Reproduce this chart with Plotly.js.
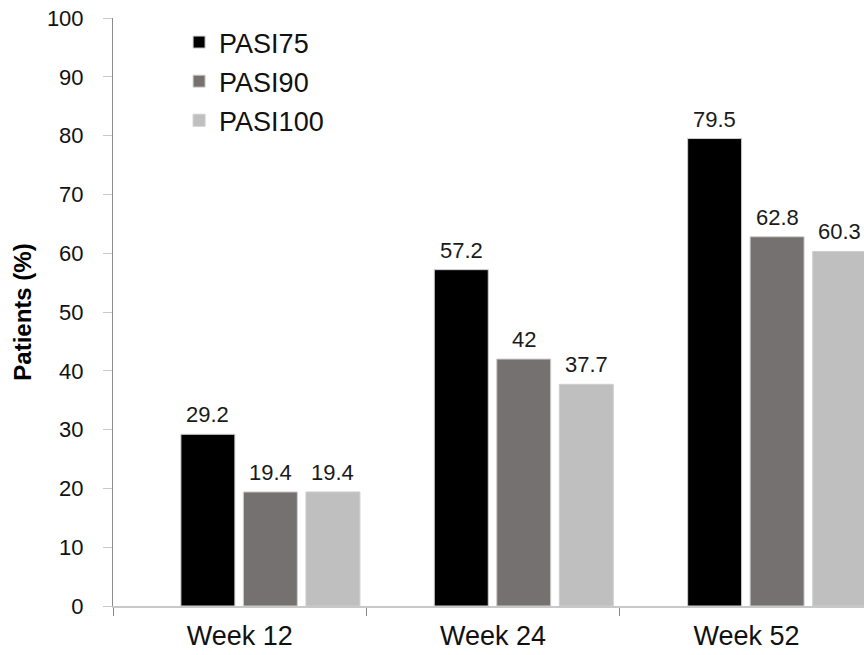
<!DOCTYPE html>
<html>
<head>
<meta charset="utf-8">
<script src="https://cdn.plot.ly/plotly-3.0.1.min.js"></script>
<style>
  html, body { margin: 0; padding: 0; background: #ffffff; overflow: hidden; }
  #chart { width: 864px; height: 655px; }
</style>
</head>
<body>
<div id="chart"></div>
<script>
// Response rates by visit
const weeks = ['Week 12', 'Week 24', 'Week 52'];
const pasi75 = [29.2, 57.2, 79.5];
const pasi90 = [19.4, 42, 62.8];
const pasi100 = [19.4, 37.7, 60.3];

const seriesNames = ['PASI75', 'PASI90', 'PASI100'];
const seriesColors = ['#000000', '#767171', '#bfbfbf'];
// bars sit right of each category centre, one slot per series
const barOffsets = [-0.232, 0.0145, 0.2615];
const barWidth = 0.213;

const FONT = '"Liberation Sans", Arial, sans-serif';
const allSeries = [pasi75, pasi90, pasi100];

const traces = allSeries.map((vals, i) => ({
  type: 'bar',
  name: seriesNames[i],
  legendgroup: seriesNames[i],
  x: weeks,
  y: vals,
  offset: barOffsets[i],
  width: barWidth,
  marker: { color: seriesColors[i], line: { color: '#cfcfcf', width: 1 } },
  hoverinfo: 'x+y+name'
}));

// value labels above each bar, placed at the bar's centre
const valueLabels = [];
allSeries.forEach((vals, i) => {
  vals.forEach((v, j) => {
    valueLabels.push({
      x: j + barOffsets[i] + barWidth / 2,
      y: v,
      xref: 'x', yref: 'y',
      text: String(v),
      showarrow: false,
      xanchor: 'center', yanchor: 'bottom',
      yshift: 5,
      font: { family: FONT, size: 22, color: '#1a1a1a' }
    });
  });
});

const layout = {
  width: 864,
  height: 655,
  margin: { l: 113, r: 0, t: 18, b: 49, pad: 0 },
  paper_bgcolor: '#ffffff',
  plot_bgcolor: '#ffffff',
  barmode: 'overlay',
  showlegend: true,
  legend: {
    x: 0.088, y: 1.0, xanchor: 'left', yanchor: 'top',
    font: { family: FONT, size: 27, color: '#111111' },
    bgcolor: 'rgba(0,0,0,0)',
    tracegroupgap: 1,
    itemwidth: 30
  },
  annotations: valueLabels,
  xaxis: {
    type: 'category',
    range: [-0.5, 2.464],
    showline: true,
    linecolor: '#c8c8c8',
    linewidth: 2,
    showgrid: false,
    zeroline: false,
    ticks: 'outside',
    tickson: 'boundaries',
    ticklen: 8,
    tickwidth: 1,
    tickcolor: '#888888',
    tickfont: { family: FONT, size: 27, color: '#111111' },
    ticklabelstandoff: 5
  },
  yaxis: {
    range: [0, 100],
    tick0: 0,
    dtick: 10,
    showline: true,
    linecolor: '#8c8c8c',
    linewidth: 1,
    showgrid: false,
    zeroline: false,
    ticks: 'outside',
    ticklen: 9,
    tickwidth: 1,
    tickcolor: '#c8c8c8',
    tickfont: { family: FONT, size: 22, color: '#111111' },
    ticklabelstandoff: 15,
    title: {
      text: 'Patients (%)',
      font: { family: FONT, size: 24, color: '#000000', weight: 'bold' },
      standoff: 8
    }
  }
};

Plotly.newPlot('chart', traces, layout, { displayModeBar: false, staticPlot: true });
</script>
</body>
</html>
